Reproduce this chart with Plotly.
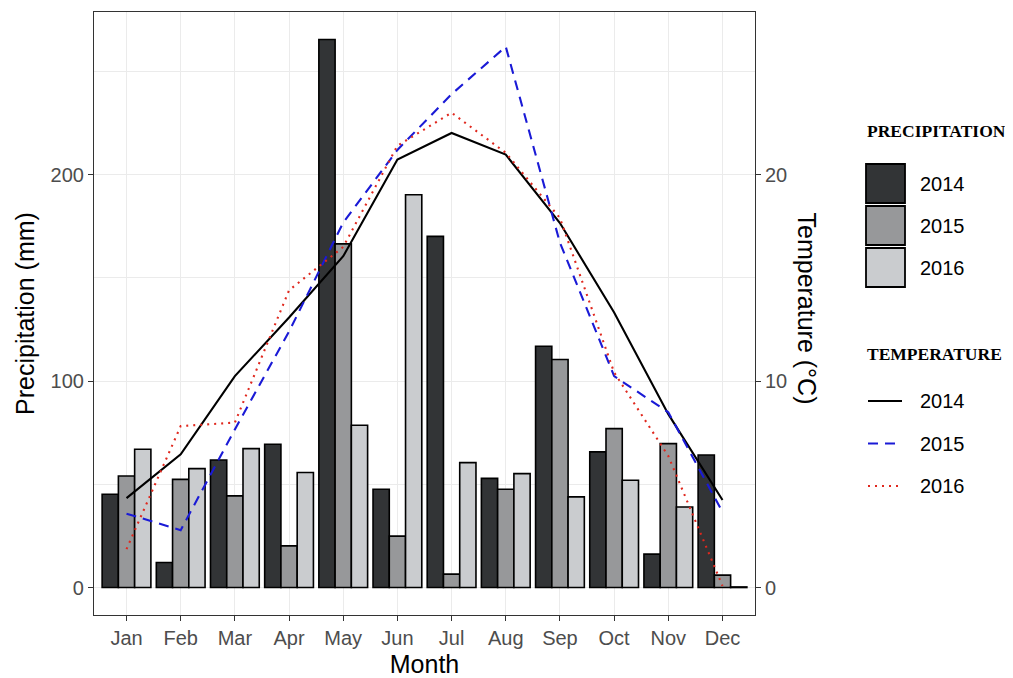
import plotly.graph_objects as go

months = ['Jan', 'Feb', 'Mar', 'Apr', 'May', 'Jun', 'Jul', 'Aug', 'Sep', 'Oct', 'Nov', 'Dec']
years = ['2014', '2015', '2016']

precip_2014 = [45.2, 12.1, 61.8, 69.4, 265.5, 47.6, 170.1, 52.9, 116.9, 65.7, 16.2, 64.2]
precip_2015 = [54.0, 52.4, 44.4, 20.2, 166.5, 24.9, 6.5, 47.6, 110.5, 77.0, 69.7, 6.0]
precip_2016 = [67.0, 57.6, 67.3, 55.7, 78.6, 190.3, 60.5, 55.2, 43.9, 52.0, 39.0, 0.3]

temp_2014 = [4.33, 6.45, 10.24, 13.08, 16.05, 20.73, 22.02, 20.97, 17.66, 13.32, 8.40, 4.24]
temp_2015 = [3.58, 2.78, 7.66, 12.40, 17.68, 21.20, 23.90, 26.20, 16.70, 10.24, 8.49, 3.66]
temp_2016 = [1.86, 7.82, 7.99, 14.40, 16.50, 21.40, 23.00, 21.06, 17.90, 10.42, 6.37, 0.08]

precip = [precip_2014, precip_2015, precip_2016]
temps = [temp_2014, temp_2015, temp_2016]

bar_colors = ['#323436', '#97989a', '#cacccf']
line_colors = ['#000000', '#1a1ad6', '#e0281e']
line_dashes = ['solid', '10px,7px', '2px,5px']

SANS = 'Liberation Sans, Arial, sans-serif'
SERIF = 'Liberation Serif, Times New Roman, serif'

# the page body adds an 8px offset; the figure is sized so the plot lands where the reference has it
OFF = 8
W, H = 1013 - OFF, 678 - OFF
# plot-area edges in page pixels
PL, PR, PT, PB = 94, 755, 12, 615
L, R, T, B = PL - OFF, PR - OFF, PT - OFF, PB - OFF

y_range = [-13.3, 278.8]
y2_range = [v / 10 for v in y_range]

fig = go.Figure()

for yr, vals, col in zip(years, precip, bar_colors):
    fig.add_trace(go.Bar(
        x=months, y=vals, name=yr, legendgroup='p',
        marker=dict(color=col, line=dict(color='#000000', width=1.6)),
        showlegend=False,
    ))

for yr, vals, col, dash in zip(years, temps, line_colors, line_dashes):
    fig.add_trace(go.Scatter(
        x=months, y=vals, name=yr, mode='lines', yaxis='y2',
        line=dict(color=col, width=2.1, dash=dash),
        showlegend=False,
    ))

axis_font = dict(family=SANS, size=20, color='#4d4d4d')
title_font = dict(family=SANS, size=25, color='#000000')

fig.update_layout(
    width=W, height=H,
    margin=dict(l=L, r=W - R, t=T, b=H - B, autoexpand=False),
    paper_bgcolor='white', plot_bgcolor='white',
    barmode='group', bargap=0.1, bargroupgap=0,
    xaxis=dict(
        range=[-0.6, 11.6], type='category',
        showgrid=True, gridcolor='#ebebeb', gridwidth=1.2,
        showline=True, mirror=True, linecolor='#333333', linewidth=1.2,
        ticks='outside', ticklen=5, tickcolor='#333333', tickwidth=1,
        tickfont=axis_font,
        title=dict(text='Month', font=title_font, standoff=18),
        zeroline=False, automargin=False,
    ),
    yaxis=dict(
        range=y_range, tickvals=[0, 100, 200],
        showgrid=True, gridcolor='#ebebeb', gridwidth=1.2,
        minor=dict(tickvals=[50, 150, 250], showgrid=True, gridcolor='#ebebeb', gridwidth=0.6, ticks=''),
        showline=True, mirror=True, linecolor='#333333', linewidth=1.2,
        ticks='outside', ticklen=5, tickcolor='#333333', tickwidth=1,
        tickfont=axis_font,
        title=dict(text='Precipitation (mm)', font=title_font, standoff=8),
        zeroline=False, automargin=False,
    ),
    yaxis2=dict(
        range=y2_range, tickvals=[0, 10, 20], overlaying='y', side='right',
        showgrid=False, zeroline=False, showline=False,
        ticks='outside', ticklen=5, tickcolor='#333333', tickwidth=1,
        tickfont=axis_font, automargin=False,
    ),
    showlegend=False,
)


def px_x(px):
    return (px - PL) / (PR - PL)


def px_y(py):
    return (PB - py) / (PB - PT)


# right axis title (reads top-to-bottom as in the reference)
fig.add_annotation(
    text='Temperature (°C)', xref='paper', yref='paper',
    x=px_x(807), y=px_y(308.5), textangle=90, showarrow=False,
    font=title_font, xanchor='center', yanchor='middle',
)

# custom legend
fig.add_annotation(text='<b>PRECIPITATION</b>', xref='paper', yref='paper',
                   x=px_x(865), y=px_y(131), showarrow=False, xanchor='left', yanchor='middle',
                   font=dict(family=SERIF, size=17.5, color='#000000'))
fig.add_annotation(text='<b>TEMPERATURE</b>', xref='paper', yref='paper',
                   x=px_x(865), y=px_y(354), showarrow=False, xanchor='left', yanchor='middle',
                   font=dict(family=SERIF, size=17.5, color='#000000'))

key_top = 164
for i, (yr, col) in enumerate(zip(years, bar_colors)):
    top = key_top + i * 42
    fig.add_shape(type='rect', xref='paper', yref='paper',
                  x0=px_x(866), x1=px_x(905), y0=px_y(top), y1=px_y(top + 39),
                  fillcolor=col, line=dict(color='#000000', width=1.8))
    fig.add_annotation(text=yr, xref='paper', yref='paper', x=px_x(918), y=px_y(top + 20),
                       showarrow=False, xanchor='left', yanchor='middle',
                       font=dict(family=SANS, size=20, color='#000000'))

for i, (yr, col, dash) in enumerate(zip(years, line_colors, line_dashes)):
    yc = 401 + i * 42.5
    fig.add_shape(type='line', xref='paper', yref='paper',
                  x0=px_x(868), x1=px_x(902), y0=px_y(yc), y1=px_y(yc),
                  line=dict(color=col, width=2.1, dash=dash))
    fig.add_annotation(text=yr, xref='paper', yref='paper', x=px_x(918), y=px_y(yc),
                       showarrow=False, xanchor='left', yanchor='middle',
                       font=dict(family=SANS, size=20, color='#000000'))

fig.write_html('out.html')
